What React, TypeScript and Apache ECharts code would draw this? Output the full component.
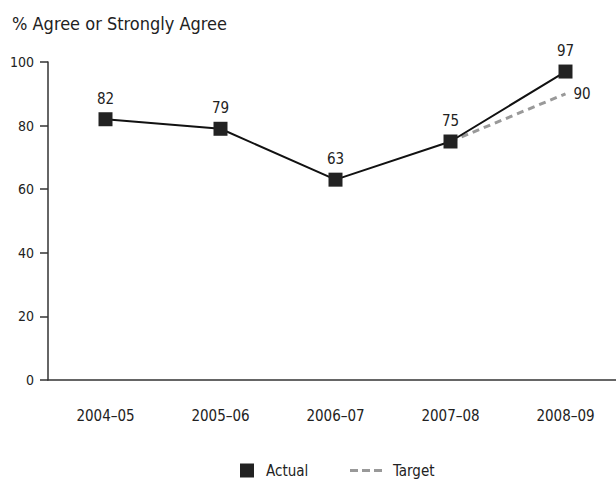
import React, { useEffect, useRef } from "react";
import * as echarts from "echarts";

const years = ["2004–05", "2005–06", "2006–07", "2007–08", "2008–09"];
const actual = [82, 79, 63, 75, 97];
const target: (number | null)[] = [null, null, null, 75, 90];
const yTicks = { min: 0, max: 100, interval: 20 };

const FONT = "'DejaVu Sans Condensed', 'Liberation Sans Narrow', sans-serif";

export default function App() {
  const ref = useRef<HTMLDivElement>(null);

  useEffect(() => {
    if (!ref.current) return;
    const chart = echarts.init(ref.current, undefined, { renderer: "svg" });
    chart.setOption({
      animation: false,
      backgroundColor: "#ffffff",
      textStyle: { fontFamily: FONT, color: "#222" },
      title: {
        text: "% Agree or Strongly Agree",
        left: 7,
        top: 9,
        textStyle: { fontFamily: FONT, fontSize: 18, fontWeight: "normal", color: "#222" },
      },
      legend: [
        {
          data: [{ name: "Actual", icon: "rect" }],
          left: 235,
          top: 458,
          itemWidth: 14,
          itemHeight: 14,
          textStyle: { fontFamily: FONT, fontSize: 15, color: "#222", padding: [0, 0, 0, 7] },
        },
        {
          data: [{ name: "Target", icon: "path://M0,0h8v3h-8z M12,0h8v3h-8z M24,0h8v3h-8z" }],
          left: 345,
          top: 458,
          itemWidth: 32,
          itemHeight: 14,
          textStyle: { fontFamily: FONT, fontSize: 15, color: "#222", padding: [0, 0, 0, 6] },
        },
      ],
      grid: {
        left: 48,
        top: 62,
        height: 318,
        width: 575,
        containLabel: false,
        outerBoundsMode: "none",
      },
      xAxis: {
        type: "category",
        data: years,
        boundaryGap: true,
        axisLine: { lineStyle: { color: "#333", width: 1.5 } },
        axisTick: { alignWithLabel: true, length: 8, lineStyle: { color: "#333", width: 1.5 } },
        axisLabel: { fontFamily: FONT, fontSize: 15, color: "#222", margin: 28 },
      },
      yAxis: {
        type: "value",
        min: yTicks.min,
        max: yTicks.max,
        interval: yTicks.interval,
        splitLine: { show: false },
        axisLine: { show: true, lineStyle: { color: "#333", width: 1.5 } },
        axisTick: { show: true, length: 8, lineStyle: { color: "#333", width: 1.5 } },
        axisLabel: { fontFamily: FONT, fontSize: 14, color: "#222", margin: 14 },
      },
      series: [
        {
          name: "Target",
          type: "line",
          data: target.map((v, i) =>
            i === target.length - 1 ? { value: v, label: { show: true } } : v
          ),
          symbol: "circle",
          symbolSize: 0,
          showAllSymbol: true,
          lineStyle: { color: "#999", width: 3, type: [7, 5] },
          itemStyle: { color: "#999" },
          label: {
            show: false,
            position: "right",
            distance: 8,
            fontFamily: FONT,
            fontSize: 15,
            color: "#222",
          },
          z: 1,
        },
        {
          name: "Actual",
          type: "line",
          data: actual,
          symbol: "rect",
          symbolSize: 14,
          lineStyle: { color: "#111", width: 2 },
          itemStyle: { color: "#222" },
          label: {
            show: true,
            position: "top",
            distance: 6,
            fontFamily: FONT,
            fontSize: 15,
            color: "#222",
          },
          z: 3,
        },
      ],
    });
    return () => chart.dispose();
  }, []);

  return (
    <div
      ref={ref}
      style={{ position: "fixed", left: 0, top: 0, width: 616, height: 483, background: "#fff" }}
    />
  );
}
